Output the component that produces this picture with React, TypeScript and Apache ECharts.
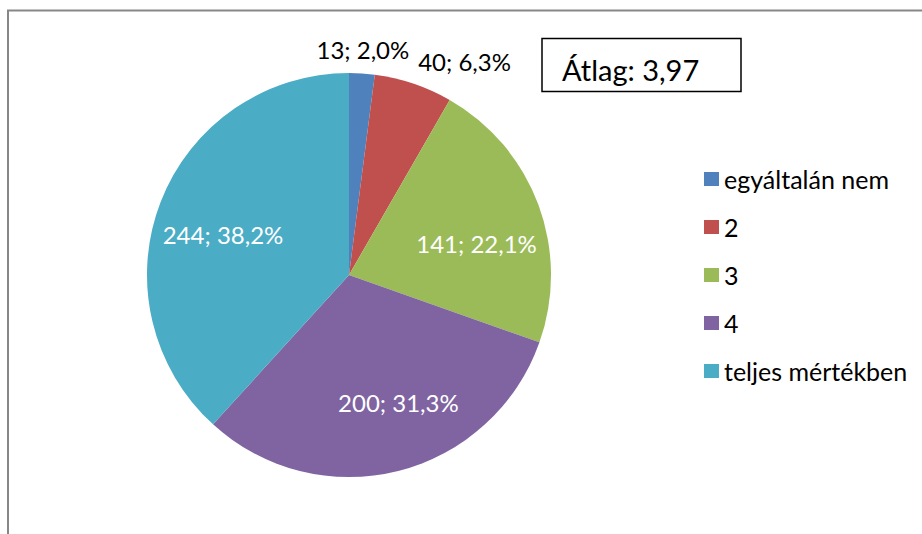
import React, { useEffect, useRef } from "react";
import * as echarts from "echarts";

const categories = ["egyáltalán nem", "2", "3", "4", "teljes mértékben"];
const counts = [13, 40, 141, 200, 244];
const percents = ["2,0%", "6,3%", "22,1%", "31,3%", "38,2%"];
const colors = ["#4F81BD", "#C0504D", "#9BBB59", "#8064A2", "#4BACC6"];
const averageText = "Átlag: 3,97";

const FONT = "Lato, 'Open Sans', sans-serif";

// label tweaks (dx, dy) relative to the library's default label placement
const labelShift: [number, number][] = [
  [-52, 0],
  [-8, 1],
  [30, 5],
  [24, 27],
  [-29, -3],
];

export default function App() {
  const ref = useRef<HTMLDivElement>(null);
  useEffect(() => {
    if (!ref.current) return;
    const chart = echarts.init(ref.current, undefined, { renderer: "svg" });
    const data = categories.map((name, i) => {
      const outside = i < 2;
      return {
        name,
        value: counts[i],
        itemStyle: { color: colors[i] },
        label: {
          show: true,
          position: outside ? "outside" : "inside",
          color: outside ? "#000000" : "#FFFFFF",
          formatter: `${counts[i]}; ${percents[i]}`,
        },
        labelLine: { show: false, length: 24, length2: 0 },
      };
    });
    chart.setOption({
      animation: false,
      backgroundColor: "#FFFFFF",
      legend: {
        orient: "vertical",
        left: 704,
        top: 166,
        padding: 0,
        icon: "rect",
        itemWidth: 15,
        itemHeight: 14,
        itemGap: 22,
        data: categories,
        textStyle: { fontFamily: FONT, fontSize: 25, color: "#000000", lineHeight: 26 },
      },
      graphic: [
        {
          type: "rect",
          shape: { x: 8, y: 10.5, width: 1000, height: 1000 },
          style: { fill: "none", stroke: "#878787", lineWidth: 2 },
          silent: true,
        },
        {
          type: "rect",
          shape: { x: 542, y: 38.5, width: 199, height: 53 },
          style: { fill: "#FFFFFF", stroke: "#000000", lineWidth: 1.5 },
          silent: true,
        },
        {
          type: "text",
          x: 562,
          y: 69,
          style: {
            text: averageText,
            fontFamily: FONT,
            fontSize: 29,
            fill: "#000000",
            verticalAlign: "middle",
            align: "left",
          },
          silent: true,
        },
      ],
      series: [
        {
          type: "pie",
          center: [349, 275],
          radius: [0, 202],
          startAngle: 90,
          clockwise: true,
          avoidLabelOverlap: false,
          label: { fontFamily: FONT, fontSize: 24 },
          labelLayout: (params: any) => {
            const s = labelShift[params.dataIndex] || [0, 0];
            return { dx: s[0], dy: s[1] };
          },
          emphasis: { disabled: true },
          data,
        },
      ],
    });
    return () => chart.dispose();
  }, []);
  return (
    <div
      ref={ref}
      style={{ position: "absolute", left: 0, top: 0, width: 922, height: 534 }}
    />
  );
}
